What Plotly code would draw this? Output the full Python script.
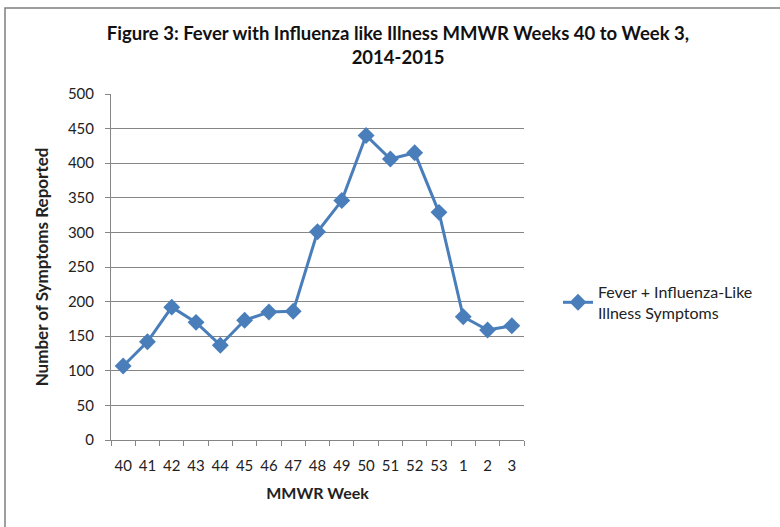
import plotly.graph_objects as go

weeks = ["40", "41", "42", "43", "44", "45", "46", "47", "48", "49", "50", "51", "52", "53", "1", "2", "3"]
symptoms = [107, 142, 192, 170, 137, 173, 185, 186, 301, 346, 440, 406, 415, 329, 178, 159, 165]
y_ticks = [0, 50, 100, 150, 200, 250, 300, 350, 400, 450, 500]

FONT = "Lato"
L, R, T, B = 111, 524, 94, 440
W, H = 780, 527

fig = go.Figure()
fig.add_trace(go.Scatter(
    x=weeks, y=symptoms, mode="lines+markers",
    name="Fever + Influenza-Like<br>Illness Symptoms",
    line=dict(color="#4A7EBB", width=3),
    marker=dict(symbol="diamond", size=13, color="#4A7EBB"),
))

pw, ph = R - L, B - T
fig.add_shape(type="rect", xref="paper", yref="paper",
              x0=(5 - L) / pw, x1=(W + 20 - L) / pw,
              y0=(B - (H + 20)) / ph, y1=(B - 8) / ph,
              line=dict(color="#7f7f7f", width=1.5), layer="below")

fig.update_layout(
    width=W, height=H,
    margin=dict(l=L, r=W - R, t=T, b=H - B, autoexpand=False),
    paper_bgcolor="white", plot_bgcolor="white",
    font=dict(family=FONT, size=15, color="#222"),
    title=dict(text="<b>Figure 3: Fever with Influenza like Illness MMWR Weeks 40 to Week 3,<br>2014-2015</b>",
               x=398 / W, xanchor="center", y=1 - 40 / H, yanchor="top",
               font=dict(family=FONT, size=18.5, color="#111")),
    xaxis=dict(type="category", categoryorder="array", categoryarray=weeks,
               range=[-0.5, len(weeks) - 0.5],
               tickson="boundaries", ticks="outside", ticklen=5, tickcolor="#868686",
               tickangle=0, automargin=False, ticklabelstandoff=12,
               showline=True, linecolor="#868686", linewidth=1,
               showgrid=False,
               title=dict(text="<b>MMWR Week</b>", font=dict(family=FONT, size=16), standoff=14),
               tickfont=dict(family=FONT, size=15)),
    yaxis=dict(range=[0, 500], tickvals=y_ticks, ticks="outside", ticklen=5, tickcolor="#868686",
               automargin=False, ticklabelstandoff=8,
               showline=True, linecolor="#868686", linewidth=1,
               showgrid=True, gridcolor="#868686", gridwidth=1, zeroline=False,
               title=dict(text="<b>Number of Symptoms Reported</b>", font=dict(family=FONT, size=17), standoff=14),
               tickfont=dict(family=FONT, size=15)),
    legend=dict(x=(558 - L) / pw, y=(B - 275) / ph, xanchor="left", yanchor="top",
                bgcolor="rgba(0,0,0,0)", font=dict(family=FONT, size=16)),
    showlegend=True,
)

fig.write_html("out.html", config={"displayModeBar": False},
               post_script="document.body.style.margin='0';")
